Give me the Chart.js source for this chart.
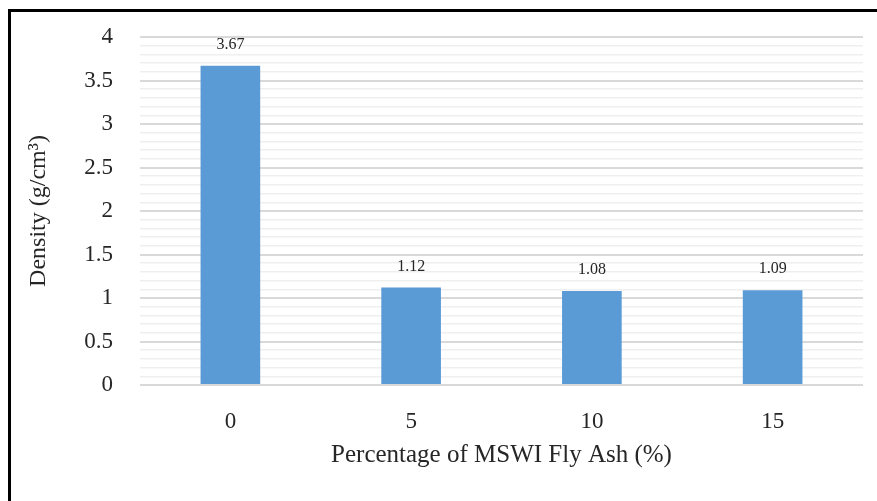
<!DOCTYPE html>
<html>
<head>
<meta charset="utf-8">
<script src="https://cdn.jsdelivr.net/npm/chart.js@4/dist/chart.umd.min.js"></script>
<style>
  html, body { margin: 0; padding: 0; background: #fff; }
  #wrap { position: relative; width: 877px; height: 501px; }
  #frame { position: absolute; left: 8px; top: 9px; right: 0; bottom: 0;
           border-top: 3px solid #000; border-left: 3px solid #000; }
  canvas { position: absolute; left: 0; top: 0; }
</style>
</head>
<body>
<div id="wrap">
  <div id="frame"></div>
  <canvas id="myChart" width="877" height="501"></canvas>
</div>
<script>
const categories = ["0", "5", "10", "15"];
const densityValues = [3.67, 1.12, 1.08, 1.09];
const yTicks = [0, 0.5, 1, 1.5, 2, 2.5, 3, 3.5, 4];

const serif = "'Liberation Serif', 'Times New Roman', serif";

function isMajor(v) {
    return yTicks.includes(Math.round(v * 10) / 10);
}

// value labels above the bars
const barLabels = {
    id: 'barLabels',
    afterDatasetsDraw(chart) {
        const ctx = chart.ctx;
        const meta = chart.getDatasetMeta(0);
        ctx.save();
        ctx.font = "16px " + serif;
        ctx.fillStyle = "#262626";
        ctx.textAlign = "center";
        ctx.textBaseline = "middle";
        meta.data.forEach(function (bar, i) {
            ctx.fillText(densityValues[i].toFixed(2), bar.x, bar.y - 21);
        });
        ctx.restore();
    }
};

const data = {
    labels: categories,
    datasets: [
        {
            data: densityValues,
            backgroundColor: "#5B9BD5",
            borderWidth: 0,
            barPercentage: 0.33,
            categoryPercentage: 1
        }
    ]
};

const config = {
    type: 'bar',
    data: data,
    options: {
        responsive: false,
        animation: false,
        layout: { padding: { left: 22, right: 14, top: 37, bottom: 0 } },
        plugins: {
            legend: { display: false },
            tooltip: { enabled: false }
        },
        scales: {
            x: {
                grid: { display: false },
                border: { display: false },
                ticks: {
                    color: "#262626",
                    font: { family: serif, size: 23 },
                    padding: 15
                },
                title: {
                    display: true,
                    text: "Percentage of MSWI Fly Ash (%)",
                    color: "#262626",
                    font: { family: serif, size: 25 },
                    padding: { top: 0, bottom: 31 }
                },
                afterFit(scale) { scale.height = 116; }
            },
            y: {
                min: 0,
                max: 4,
                border: { display: false },
                grid: {
                    drawTicks: false,
                    color: ctx => isMajor(ctx.tick.value) ? "#d9d9d9" : "#efefef",
                    lineWidth: ctx => isMajor(ctx.tick.value) ? 2 : 1.5
                },
                ticks: {
                    stepSize: 0.1,
                    maxTicksLimit: 100,
                    autoSkip: false,
                    color: "#262626",
                    font: { family: serif, size: 23 },
                    padding: 27,
                    callback: v => isMajor(v) ? String(Math.round(v * 10) / 10) : ""
                },
                title: {
                    display: true,
                    text: "Density (g/cm³)",
                    color: "#262626",
                    font: { family: serif, size: 24 },
                    padding: { top: 2, bottom: 0 }
                },
                afterFit(scale) {
                    scale.width = 118;
                    scale.paddingTop = 0;
                    scale.paddingBottom = 0;
                }
            }
        }
    },
    plugins: [barLabels]
};

window.mychart = new Chart(document.getElementById('myChart'), config);
</script>
</body>
</html>
